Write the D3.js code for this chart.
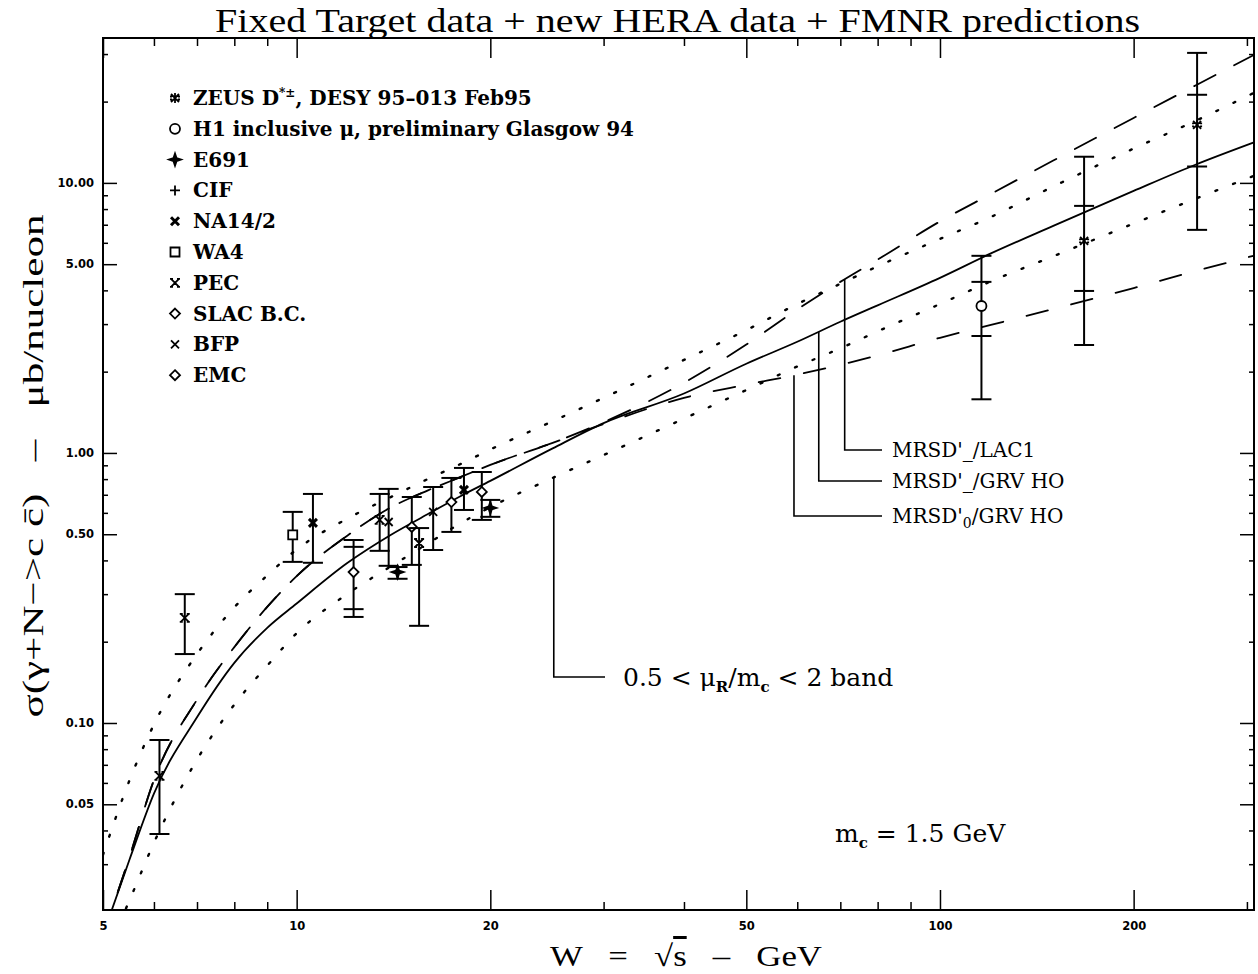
<!DOCTYPE html>
<html>
<head>
<meta charset="utf-8">
<script src="https://cdn.jsdelivr.net/npm/d3@7"></script>
<style>
  body { margin: 0; background: #fff; }
  svg { display: block; }
</style>
</head>
<body>
<svg width="1258" height="974"></svg>
<script>
// ---- data ----
const curveW   = [5, 5.5, 6, 7, 8, 9, 10, 12, 14, 16, 18, 20, 25, 30, 40, 50, 60, 70, 80, 100, 120, 150, 200, 250, 307];
const grvHO    = [0.0164, 0.0313, 0.0548, 0.105, 0.167, 0.225, 0.277, 0.392, 0.497, 0.594, 0.693, 0.788, 1.04, 1.29, 1.66, 2.14, 2.58, 3.06, 3.52, 4.45, 5.48, 6.93, 9.34, 11.7, 14.1];
const bandHigh = [0.0325, 0.0615, 0.0987, 0.180, 0.268, 0.352, 0.439, 0.572, 0.686, 0.801, 0.911, 1.03, 1.31, 1.60, 2.21, 2.85, 3.56, 4.23, 4.91, 6.20, 7.48, 9.70, 13.4, 17.0, 21.5];
const bandLow  = [0.0132, 0.0221, 0.0360, 0.0732, 0.117, 0.163, 0.215, 0.301, 0.380, 0.462, 0.550, 0.630, 0.808, 0.982, 1.34, 1.71, 2.09, 2.44, 2.82, 3.56, 4.32, 5.35, 7.07, 8.75, 10.6];
const lac1     = [0.0164, 0.032, 0.0615, 0.122, 0.191, 0.269, 0.350, 0.495, 0.628, 0.727, 0.815, 0.903, 1.09, 1.30, 1.82, 2.52, 3.40, 4.30, 5.20, 7.20, 9.10, 12.1, 17.4, 23.0, 29.7];
const mrsd0    = [0.0164, 0.032, 0.0615, 0.122, 0.191, 0.269, 0.350, 0.495, 0.628, 0.727, 0.815, 0.903, 1.09, 1.28, 1.60, 1.79, 1.95, 2.12, 2.30, 2.67, 2.98, 3.41, 4.08, 4.72, 5.37];

const experiments = ['ZEUS', 'H1', 'E691', 'CIF', 'NA14/2', 'WA4', 'PEC', 'SLAC B.C.', 'BFP', 'EMC'];
const expSymbols  = ['zeus', 'circle', 'star4', 'plus', 'boldx', 'square', 'pec', 'diamond', 'cross', 'diamond'];

const points = [
  {exp: 'PEC', w: 6.12, s: 0.0637, lo: 0.0388, hi: 0.0865},
  {exp: 'PEC', w: 6.70, s: 0.245, lo: 0.180, hi: 0.300},
  {exp: 'WA4', w: 9.86, s: 0.497, lo: 0.395, hi: 0.605},
  {exp: 'NA14/2', w: 10.6, s: 0.551, lo: 0.392, hi: 0.705},
  {exp: 'SLAC B.C.', w: 12.26, s: 0.362, lo: 0.247, hi: 0.476, loIn: 0.264, hiIn: 0.449},
  {exp: 'PEC', w: 13.46, s: 0.565, lo: 0.434, hi: 0.705},
  {exp: 'BFP', w: 13.9, s: 0.555, lo: 0.382, hi: 0.736},
  {exp: 'E691', w: 14.35, s: 0.362, lo: 0.342, hi: 0.378},
  {exp: 'EMC', w: 15.1, s: 0.532, lo: 0.385, hi: 0.687},
  {exp: 'PEC', w: 15.5, s: 0.464, lo: 0.229, hi: 0.527},
  {exp: 'BFP', w: 16.3, s: 0.605, lo: 0.437, hi: 0.748},
  {exp: 'SLAC B.C.', w: 17.4, s: 0.658, lo: 0.510, hi: 0.808},
  {exp: 'NA14/2', w: 18.2, s: 0.73, lo: 0.615, hi: 0.88},
  {exp: 'EMC', w: 19.4, s: 0.717, lo: 0.565, hi: 0.85},
  {exp: 'E691', w: 20.0, s: 0.626, lo: 0.58, hi: 0.67},
  {exp: 'H1', w: 116, s: 3.50, lo: 1.58, hi: 5.37, loIn: 2.71, hiIn: 4.30},
  {exp: 'ZEUS', w: 167.5, s: 6.10, lo: 2.51, hi: 12.5, loIn: 3.98, hiIn: 8.22},
  {exp: 'ZEUS', w: 251, s: 16.4, lo: 6.70, hi: 30.3, loIn: 11.5, hiIn: 21.2}
];

const xMajor = [5, 10, 20, 50, 100, 200];
const xMinor = [6, 7, 8, 9, 30, 40, 60, 70, 80, 90, 300];
const yMajor = [0.05, 0.1, 0.5, 1, 5, 10];
const yMinor = [0.03, 0.04, 0.06, 0.07, 0.08, 0.09, 0.2, 0.3, 0.4, 0.6, 0.7, 0.8, 0.9, 2, 3, 4, 6, 7, 8, 9, 20, 30];

// ---- layout ----
const svg = d3.select('svg');
const margin = {top: 38, right: 4, bottom: 64, left: 103};
const width = +svg.attr('width');
const height = +svg.attr('height');
const innerwidth = width - margin.left - margin.right;
const innerheight = height - margin.top - margin.bottom;

const x = d3.scaleLog().domain([5, 307.7]).range([0, innerwidth]);
const y = d3.scaleLog().domain([0.0203, 34.4]).range([innerheight, 0]);

const g = svg.append('g')
    .attr('transform', 'translate(' + margin.left + ',' + margin.top + ')');

g.append('clipPath').attr('id', 'plotclip')
  .append('rect').attr('width', innerwidth).attr('height', innerheight);

const tickFont = 'DejaVu Sans, sans-serif';

// bottom axis
g.append('g')
    .attr('transform', 'translate(0,' + innerheight + ')')
    .call(d3.axisBottom(x).tickValues(xMajor).tickFormat(d3.format('d'))
      .tickSizeInner(-20).tickSizeOuter(0).tickPadding(12));
g.append('g')
    .attr('transform', 'translate(0,' + innerheight + ')')
    .call(d3.axisBottom(x).tickValues(xMinor).tickFormat('').tickSizeInner(-8).tickSizeOuter(0));
// top axis
g.append('g').call(d3.axisTop(x).tickValues(xMajor).tickFormat('').tickSizeInner(-20).tickSizeOuter(0));
g.append('g').call(d3.axisTop(x).tickValues(xMinor).tickFormat('').tickSizeInner(-8).tickSizeOuter(0));

// left axis
g.append('g')
    .call(d3.axisLeft(y).tickValues(yMajor).tickFormat(d3.format('.2f'))
      .tickSizeInner(-14).tickSizeOuter(0).tickPadding(9));
g.append('g').call(d3.axisLeft(y).tickValues(yMinor).tickFormat('').tickSizeInner(-5).tickSizeOuter(0));
// right axis
g.append('g').attr('transform', 'translate(' + innerwidth + ',0)')
    .call(d3.axisRight(y).tickValues(yMajor).tickFormat('').tickSizeInner(-14).tickSizeOuter(0));
g.append('g').attr('transform', 'translate(' + innerwidth + ',0)')
    .call(d3.axisRight(y).tickValues(yMinor).tickFormat('').tickSizeInner(-5).tickSizeOuter(0));

g.selectAll('.domain').remove();
g.selectAll('.tick line').attr('stroke', '#000').attr('stroke-width', 1.5);
g.selectAll('.tick text')
    .attr('fill', '#000')
    .style('font-family', tickFont)
    .style('font-size', '11.5px')
    .style('font-weight', 'bold');

g.append('rect')
    .attr('width', innerwidth)
    .attr('height', innerheight)
    .attr('fill', 'none')
    .attr('stroke', '#000')
    .attr('stroke-width', 2);

// ---- curves ----
const line = d3.line()
    .x(d => x(d[0]))
    .y(d => y(d[1]))
    .curve(d3.curveMonotoneX);

const curves = [
  {vals: bandHigh, dash: '2 17', sw: 2.4},
  {vals: bandLow, dash: '2 17', sw: 2.4},
  {vals: lac1, dash: '24 21', sw: 1.8},
  {vals: mrsd0, dash: '22 24', sw: 1.8},
  {vals: grvHO, dash: null, sw: 1.8}
];

const curveG = g.append('g').attr('clip-path', 'url(#plotclip)');
curves.forEach(c => {
  curveG.append('path')
      .datum(curveW.map((w, i) => [w, c.vals[i]]))
      .attr('d', line)
      .attr('fill', 'none')
      .attr('stroke', '#000')
      .attr('stroke-width', c.sw)
      .attr('stroke-linecap', c.dash ? 'round' : 'butt')
      .attr('stroke-dasharray', c.dash);
});

// value of a curve at w (log-log interpolation)
const curveAt = (vals, w) => {
  const i = Math.max(1, d3.bisectLeft(curveW, w));
  const t = (Math.log(w) - Math.log(curveW[i - 1])) / (Math.log(curveW[i]) - Math.log(curveW[i - 1]));
  return Math.exp(Math.log(vals[i - 1]) + t * (Math.log(vals[i]) - Math.log(vals[i - 1])));
};

// ---- leader lines + labels ----
const labelFont = 'DejaVu Serif, serif';
const leaders = [
  {vals: lac1, w: 71.1, ly: 412, lx: 779, label: ['MRSD\'_/LAC1']},
  {vals: grvHO, w: 64.8, ly: 443, lx: 779, label: ['MRSD\'_/GRV HO']},
  {vals: mrsd0, w: 59.3, ly: 478, lx: 779, label: ['MRSD\'', '0', '/GRV HO']},
  {vals: bandLow, w: 25.1, ly: 639, lx: 502, label: null}
];

leaders.forEach(d => {
  const x0 = x(d.w);
  g.append('path')
      .attr('d', 'M' + x0 + ',' + y(curveAt(d.vals, d.w)) + 'V' + d.ly + 'H' + d.lx)
      .attr('fill', 'none')
      .attr('stroke', '#000')
      .attr('stroke-width', 1.6);
  if (d.label) {
    const t = g.append('text')
        .attr('x', d.lx + 10)
        .attr('y', d.ly + 7)
        .style('font-family', labelFont)
        .style('font-size', '20px');
    t.append('tspan').text(d.label[0]);
    if (d.label.length > 1) {
      t.append('tspan').attr('dy', 5).style('font-size', '14px').text(d.label[1]);
      t.append('tspan').attr('dy', -5).text(d.label[2]);
    }
  }
});

const band = g.append('text')
    .attr('x', 520).attr('y', 648)
    .style('font-family', labelFont)
    .style('font-size', '25px');
band.append('tspan').text('0.5 < \u03BC');
band.append('tspan').attr('dy', 6).style('font-size', '15px').style('font-weight', 'bold').text('R');
band.append('tspan').attr('dy', -6).text('/m');
band.append('tspan').attr('dy', 6).style('font-size', '15px').style('font-weight', 'bold').text('c');
band.append('tspan').attr('dy', -6).text(' < 2 band');

const mc = g.append('text')
    .attr('x', 732).attr('y', 804)
    .style('font-family', labelFont)
    .style('font-size', '25px');
mc.append('tspan').text('m');
mc.append('tspan').attr('dy', 6).style('font-size', '15px').style('font-weight', 'bold').text('c');
mc.append('tspan').attr('dy', -6).text(' = 1.5 GeV');

// ---- symbols ----
const symbolPath = {
  circle: 'M5,0A5,5 0 1,1 -5,0A5,5 0 1,1 5,0Z',
  square: 'M-4.5,-4.5H4.5V4.5H-4.5Z',
  diamond: 'M0,-5L5,0L0,5L-5,0Z',
  plus: 'M-5,0H5M0,-5V5',
  cross: 'M-4,-4L4,4M-4,4L4,-4',
  boldx: 'M-4,-4L4,4M-4,4L4,-4',
  star4: 'M0,-6L1.5,-1.5L6,0L1.5,1.5L0,6L-1.5,1.5L-6,0L-1.5,-1.5Z',
  pec: 'M-4,-4L4,4M-4,4L4,-4M-5,-4H-2M2,-4H5M-5,4H-2M2,4H5',
  zeus: 'M-4,-4L4,4M-4,4L4,-4M0,-5V5M-5,-1.5H-3M3,-1.5H5M-5,1.5H-3M3,1.5H5'
};

const drawSymbol = (sel, type) => {
  sel.append('path')
      .attr('d', symbolPath[type])
      .attr('fill', (type === 'star4') ? '#000' : ((type === 'circle' || type === 'square' || type === 'diamond') ? '#fff' : 'none'))
      .attr('stroke', '#000')
      .attr('stroke-width', type === 'boldx' ? 3 : 1.8);
};

// ---- data points ----
const capW = 10;
const pointG = g.append('g').attr('clip-path', 'url(#plotclip)');
points.forEach(d => {
  const px = x(d.w);
  const bar = pointG.append('g').attr('stroke', '#000').attr('stroke-width', 2);
  bar.append('line').attr('x1', px).attr('x2', px).attr('y1', y(d.lo)).attr('y2', y(d.hi));
  const caps = [d.lo, d.hi];
  if (d.loIn) caps.push(d.loIn, d.hiIn);
  caps.forEach(v => {
    bar.append('line')
        .attr('x1', px - capW).attr('x2', px + capW)
        .attr('y1', y(v)).attr('y2', y(v));
  });
  const sg = pointG.append('g').attr('transform', 'translate(' + px + ',' + y(d.s) + ')');
  drawSymbol(sg, expSymbols[experiments.indexOf(d.exp)]);
});

// ---- legend ----
const legendG = svg.append('g').attr('transform', 'translate(175,98)');
experiments.forEach((name, i) => {
  const row = legendG.append('g').attr('transform', 'translate(0,' + (i * 30.8) + ')');
  drawSymbol(row, expSymbols[i]);
  const t = row.append('text')
      .attr('x', 18)
      .attr('y', 7)
      .style('font-family', labelFont)
      .style('font-weight', 'bold')
      .style('font-size', '20px');
  if (name === 'ZEUS') {
    t.append('tspan').text('ZEUS D');
    t.append('tspan').attr('dy', -8).style('font-size', '12px').text('*\u00B1');
    t.append('tspan').attr('dy', 8).text(', DESY 95\u2013013 Feb95');
  } else if (name === 'H1') {
    t.text('H1 inclusive \u03BC, preliminary Glasgow 94');
  } else {
    t.text(name);
  }
});

// ---- titles ----
svg.append('text')
    .attr('x', 215).attr('y', 32)
    .attr('textLength', 925)
    .attr('lengthAdjust', 'spacingAndGlyphs')
    .style('font-family', 'Liberation Serif, serif')
    .style('font-size', '34px')
    .text('Fixed Target data + new HERA data + FMNR predictions');

const xl = svg.append('text')
    .attr('x', 550).attr('y', 966)
    .attr('textLength', 272)
    .attr('lengthAdjust', 'spacingAndGlyphs')
    .style('font-family', 'Liberation Serif, serif')
    .style('font-size', '30px')
    .style('white-space', 'pre');
xl.append('tspan').text('W   =   \u221A');
xl.append('tspan').style('text-decoration', 'overline').text('s');
xl.append('tspan').text('   \u2013   GeV');

svg.append('text')
    .attr('transform', 'translate(43,466) rotate(-90)')
    .attr('text-anchor', 'middle')
    .attr('textLength', 503)
    .attr('lengthAdjust', 'spacingAndGlyphs')
    .style('font-family', 'Liberation Serif, serif')
    .style('font-size', '30px')
    .style('white-space', 'pre')
    .text('\u03C3(\u03B3+N\u2212>c c\u0304)   \u2013   \u03BCb/nucleon');
</script>
</body>
</html>
